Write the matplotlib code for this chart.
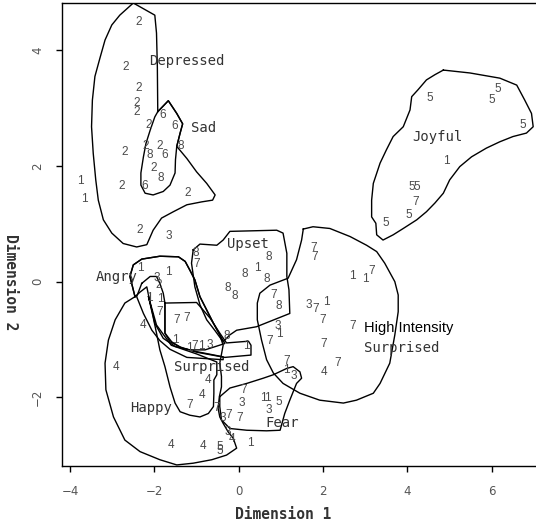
import matplotlib.pyplot as plt

# MDS configuration: each point is drawn as its emotion code (1-8)
pt_x = [
    # 1
    -3.76, -3.67, -2.34, -1.67, -2.12, -1.87, -1.51, -1.16, -0.88, 0.17,
    1.12, 0.58, 0.68, 0.27, 2.08, 2.70, 2.99, 4.91, 0.44, 0.96,
    # 2
    -2.38, -2.67, -2.38, -2.41, -2.41, -2.14, -2.20, -1.88, -2.70, -2.01,
    -2.77, -1.22, -2.34, -1.91,
    # 3
    -1.67, -1.95, -0.68, 0.92, 1.31, 0.07, 0.70, -0.37, 1.65, -0.27,
    # 4
    -2.26, -2.91, -0.72, -0.88, -1.61, -0.84, -0.15, 2.03,
    # 5
    0.96, -0.46, -0.45, 4.53, 5.99, 6.15, 6.73, 4.10, 4.22, 4.03, 3.49,
    # 6
    -1.80, -1.51, -1.75, -2.22,
    # 7
    -1.88, -1.47, -1.23, -1.04, -1.16, -0.52, -0.25, 0.03, 0.11, 0.74,
    1.14, 1.77, 1.79, 3.15, 1.82, 1.99, 2.70, 2.02, 2.34, 4.20, -1.00, 0.83,
    # 8
    -2.10, -1.38, -1.84, -1.01, 0.72, 0.15, 0.66, -0.25, -0.09, 0.94, -0.29,
]
pt_y = [
    1.74, 1.43, 0.23, 0.16, -0.29, -0.30, -1.01, -1.15, -1.11, -1.11,
    -1.53, -2.02, -2.02, -2.79, -0.35, 0.09, 0.04, 2.08, 0.24, -0.90,
    4.50, 3.72, 3.35, 3.09, 2.94, 2.71, 2.35, 2.34, 2.25, 1.96,
    1.66, 1.54, 0.89, -0.06,
    0.79, 0.06, -1.10, -0.76, -1.63, -2.10, -2.22, -2.36, -0.40, -2.60,
    -0.75, -1.47, -1.70, -1.96, -2.83, -2.85, -2.73, -1.56,
    -2.09, -2.86, -2.93, 3.17, 3.14, 3.33, 2.71, 1.64, 1.64, 1.15, 1.01,
    2.88, 2.69, 2.19, 1.66,
    -0.52, -0.66, -0.63, -1.12, -2.13, -2.19, -2.31, -2.36, -1.87, -1.02,
    -1.38, 0.58, 0.42, 0.19, -0.48, -0.67, -0.77, -1.08, -1.40, 1.38, 0.31, -0.23,
    2.19, 2.34, 1.79, 0.49, 0.42, 0.13, 0.04, -0.11, -0.25, -0.42, -0.94,
]
pt_lab = ["1"] * 20 + ["2"] * 14 + ["3"] * 10 + ["4"] * 8 + ["5"] * 11 + ["6"] * 4 + ["7"] * 22 + ["8"] * 11

# cluster names and where they sit
cluster_names = ["Depressed", "Sad", "Joyful", "Upset", "Angry", "Surprised", "Happy", "Fear"]
cluster_x = [-1.24, -0.84, 4.71, 0.21, -2.90, -0.64, -2.09, 1.02]
cluster_y = [3.82, 2.66, 2.51, 0.65, 0.08, -1.47, -2.19, -2.45]

# hand drawn cluster outlines
depressed_outline = [
    (-2.50, 4.82), (-1.99, 4.61), (-1.95, 4.30), (-1.93, 3.72), (-1.92, 2.94), (-1.67, 3.13),
    (-1.47, 2.91), (-1.33, 2.73), (-1.39, 2.57), (-1.47, 2.34), (-1.23, 2.13), (-1.00, 1.90),
    (-0.76, 1.70), (-0.56, 1.50), (-0.62, 1.41), (-0.88, 1.38), (-1.23, 1.33), (-1.55, 1.21),
    (-1.83, 1.10), (-2.03, 0.89), (-2.18, 0.64), (-2.42, 0.60), (-2.74, 0.66), (-3.01, 0.84),
    (-3.21, 1.07), (-3.33, 1.41), (-3.39, 1.76), (-3.45, 2.22), (-3.49, 2.68), (-3.47, 3.14),
    (-3.41, 3.55), (-3.29, 3.87), (-3.17, 4.18), (-3.01, 4.44), (-2.82, 4.61),
]
sad_outline = [
    (-1.92, 2.94), (-1.67, 3.13), (-1.47, 2.91), (-1.33, 2.73), (-1.39, 2.57), (-1.47, 2.34),
    (-1.50, 2.11), (-1.51, 1.88), (-1.63, 1.67), (-1.79, 1.56), (-2.03, 1.50), (-2.22, 1.53),
    (-2.32, 1.67), (-2.32, 1.88), (-2.26, 2.16), (-2.20, 2.39), (-2.10, 2.62), (-1.99, 2.85),
]
joyful_outline = [
    (4.85, 3.66), (5.48, 3.61), (6.19, 3.52), (6.59, 3.40), (6.78, 3.14), (6.94, 2.91),
    (6.98, 2.68), (6.82, 2.57), (6.50, 2.51), (6.19, 2.42), (5.87, 2.31), (5.52, 2.16),
    (5.24, 1.99), (5.00, 1.76), (4.85, 1.53), (4.65, 1.36), (4.45, 1.21), (4.22, 1.07),
    (3.90, 0.92), (3.66, 0.81), (3.42, 0.72), (3.27, 0.81), (3.25, 1.01), (3.15, 1.12),
    (3.15, 1.41), (3.19, 1.70), (3.35, 2.05), (3.50, 2.28), (3.66, 2.51), (3.90, 2.68),
    (4.06, 2.97), (4.10, 3.20), (4.25, 3.32), (4.45, 3.49), (4.65, 3.58),
]
upset_outline = [
    (-1.08, 0.55), (-0.92, 0.65), (-0.52, 0.63), (-0.37, 0.72), (-0.21, 0.87), (0.90, 0.89),
    (1.05, 0.84), (1.14, 0.49), (1.14, 0.09), (1.19, -0.14), (1.21, -0.55), (0.42, -0.78),
    (-0.05, -0.84), (-0.21, -0.92), (-0.37, -1.04), (-0.56, -0.85), (-0.76, -0.66),
    (-0.92, -0.40), (-1.04, -0.09), (-1.12, 0.32),
]
high_surprised_outline = [
    (1.53, 0.91), (1.76, 0.95), (2.16, 0.92), (2.64, 0.78), (3.03, 0.63), (3.27, 0.52),
    (3.46, 0.32), (3.70, 0.00), (3.78, -0.23), (3.78, -0.52), (3.70, -0.92), (3.58, -1.41),
    (3.35, -1.76), (3.19, -1.93), (2.79, -2.05), (2.48, -2.10), (1.92, -2.05), (1.45, -1.93),
    (1.05, -1.76), (0.82, -1.58), (0.66, -1.35), (0.54, -1.01), (0.44, -0.66), (0.44, -0.37),
    (0.50, -0.20), (0.74, -0.06), (1.17, 0.06), (1.37, 0.38), (1.49, 0.72),
]
angry_outline = [
    (-2.46, -0.26), (-2.58, 0.09), (-2.50, 0.29), (-2.30, 0.39), (-1.87, 0.44), (-1.43, 0.43),
    (-1.27, 0.35), (-1.16, 0.20), (-1.04, 0.03), (-0.92, -0.26), (-0.76, -0.49), (-0.60, -0.72),
    (-0.45, -0.92), (-0.33, -1.07), (-0.80, -1.18), (-1.16, -1.18), (-1.51, -1.12),
    (-1.79, -0.98), (-1.99, -0.72), (-2.10, -0.37), (-2.18, -0.09), (-2.34, -0.18),
]
narrow_outline = [
    (-2.30, -0.03), (-2.10, 0.09), (-1.95, 0.09), (-1.87, -0.03), (-1.79, -0.20), (-1.75, -0.37),
    (-1.75, -0.89), (-1.59, -1.04), (-1.35, -1.15), (-1.00, -1.21), (-0.37, -1.30),
    (-0.37, -1.35), (-1.23, -1.31), (-1.63, -1.17), (-1.87, -1.02), (-2.06, -0.84),
    (-2.26, -0.55), (-2.42, -0.26),
]
surprised_outline = [
    (-1.75, -0.37), (-1.00, -0.36), (-0.68, -0.63), (-0.45, -0.89), (-0.29, -1.06), (0.23, -1.03),
    (0.29, -1.10), (0.29, -1.27), (-0.33, -1.31), (-1.00, -1.22), (-1.39, -1.13), (-1.63, -1.04),
    (-1.75, -0.89),
]
happy_inner_outline = [
    (-2.14, -0.26), (-2.03, -0.61), (-1.95, -0.89), (-1.87, -1.18), (-1.75, -1.47), (-1.63, -1.82),
    (-1.51, -2.10), (-1.39, -2.25), (-1.16, -2.31), (-0.92, -2.34), (-0.72, -2.28), (-0.60, -2.16),
    (-0.59, -1.93), (-0.59, -1.70), (-0.52, -1.61), (-0.52, -1.39), (-1.00, -1.25),
    (-1.60, -1.10), (-1.95, -0.75),
]
happy_outline = [
    (-2.46, -0.26), (-2.70, -0.37), (-2.93, -0.66), (-3.09, -1.01), (-3.17, -1.41), (-3.15, -1.87),
    (-2.97, -2.34), (-2.70, -2.74), (-2.34, -2.94), (-1.87, -3.08), (-1.47, -3.17), (-1.08, -3.14),
    (-0.64, -3.08), (-0.29, -3.00), (-0.05, -2.88), (-0.13, -2.71), (-0.25, -2.60), (-0.37, -2.45),
    (-0.45, -2.34), (-0.49, -2.19), (-0.46, -1.99), (-0.41, -1.82), (-0.41, -1.64), (-0.45, -1.41),
    (-0.37, -1.10), (-0.45, -0.92), (-0.60, -0.72), (-0.76, -0.49), (-0.92, -0.26), (-1.04, 0.03),
    (-1.16, 0.20), (-1.27, 0.35), (-1.43, 0.43), (-1.87, 0.44), (-2.30, 0.39), (-2.50, 0.29),
    (-2.58, 0.09),
]
fear_outline = [
    (-0.45, -1.99), (-0.21, -1.84), (0.19, -1.76), (0.58, -1.67), (0.82, -1.61), (1.14, -1.50),
    (1.29, -1.47), (1.45, -1.56), (1.49, -1.67), (1.37, -1.76), (1.21, -2.05), (1.09, -2.28),
    (0.98, -2.57), (0.66, -2.58), (0.19, -2.57), (-0.21, -2.54), (-0.41, -2.39), (-0.45, -2.16),
]
outlines = [depressed_outline, sad_outline, joyful_outline, upset_outline, high_surprised_outline,
            angry_outline, narrow_outline, surprised_outline, happy_inner_outline, happy_outline,
            fear_outline]

fig = plt.figure(figsize=(5.36, 5.28), dpi=100)
ax = fig.add_axes([0.1157, 0.1165, 0.894, 0.8778])

for shape in outlines:
    xs = [p[0] for p in shape] + [shape[0][0]]
    ys = [p[1] for p in shape] + [shape[0][1]]
    ax.plot(xs, ys, color="black", lw=1.0)

for x, y, s in zip(pt_x, pt_y, pt_lab):
    ax.text(x, y, s, ha="center", va="center", fontsize=8.5,
            family="Liberation Sans", color="#4a4a4a")

for name, x, y in zip(cluster_names, cluster_x, cluster_y):
    ax.text(x, y, name, ha="center", va="center", fontsize=10,
            family="DejaVu Sans Mono", color="#333333")

ax.text(2.96, -0.81, "High Intensity", ha="left", va="center", fontsize=10.5,
        family="Liberation Sans", color="black")
ax.text(2.96, -1.15, "Surprised", ha="left", va="center", fontsize=10,
        family="DejaVu Sans Mono", color="#333333")

ax.set_xlim(-4.19, 7.17)
ax.set_ylim(-3.197, 4.82)
ax.set_xticks([-4, -2, 0, 2, 4, 6])
ax.set_yticks([-2, 0, 2, 4])
ax.tick_params(direction="out", length=4, width=1, labelsize=8.5, labelcolor="#555555", pad=9)
for lab in ax.get_yticklabels():
    lab.set_rotation(90)
    lab.set_va("center")
ax.spines["right"].set_visible(False)
for side in ["left", "top", "bottom"]:
    ax.spines[side].set_linewidth(1.0)

fig.text(0.528, 0.025, "Dimension 1", ha="center", va="center", fontsize=10.5,
         family="DejaVu Sans Mono", fontweight="bold", color="#333333")
fig.text(0.019, 0.466, "Dimension 2", ha="center", va="center", rotation=-90, fontsize=10.5,
         family="DejaVu Sans Mono", fontweight="bold", color="#333333")

fig.savefig("out.png", dpi=100)
